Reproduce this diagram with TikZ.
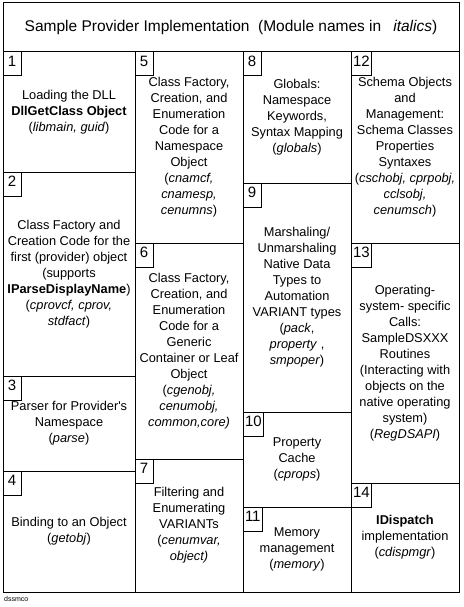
\documentclass[tikz,border=0pt]{standalone}
\usepackage{fontspec}
\setmainfont{Liberation Sans}[Ligatures=TeXOff]
\usetikzlibrary{positioning}

\begin{document}
\begin{tikzpicture}[x=1pt, y=-1pt, node distance=0pt,
  cell/.style={draw, line width=1pt, outer sep=0pt, inner sep=0pt, align=center, font=\fontsize{12.8}{16}\selectfont},
  numbox/.style={draw, line width=1pt, outer sep=0pt, anchor=north west, inner xsep=2pt, inner ysep=3.5pt, minimum width=18pt, text height=11pt, text depth=6pt, font=\fontsize{15}{16}\selectfont}]
  \useasboundingbox (0,0) rectangle (463,607);
  \node[cell, anchor=north west, minimum width=456pt, minimum height=49pt, font=\fontsize{15.5}{18}\selectfont] (title) at (3,3) {Sample Provider Implementation\ \ (Module names in\hspace{12pt}\textit{italics})};
  \node[cell, anchor=north west, minimum width=132pt, minimum height=120pt] (c1) at (title.south west) {Loading the DLL\\\textbf{DllGetClass Object}\\(\textit{libmain, guid})};
  \node[cell, below=of c1, minimum width=132pt, minimum height=204pt] (c2) {Class Factory and\\Creation Code for the\\first (provider) object\\(supports\\\textbf{IParseDisplayName})\\(\textit{cprovcf, cprov,}\\\textit{stdfact})};
  \node[cell, below=of c2, minimum width=132pt, minimum height=95pt] (c3) {Parser for Provider's\\Namespace\\(\textit{parse})};
  \node[cell, below=of c3, minimum width=132pt, minimum height=121pt] (c4) {Binding to an Object\\(\textit{getobj})};
  \node[cell, anchor=north west, minimum width=108pt, minimum height=191pt] (c5) at (c1.north east) {Class Factory,\\Creation, and\\Enumeration\\Code for a\\Namespace\\Object\\(\textit{cnamcf,}\\\textit{cnamesp,}\\\textit{cenumns})};
  \node[cell, below=of c5, minimum width=108pt, minimum height=216pt] (c6) {Class Factory,\\Creation, and\\Enumeration\\Code for a\\Generic\\Container or Leaf\\Object\\(\textit{cgenobj,}\\\textit{cenumobj,}\\\textit{common,core)}};
  \node[cell, below=of c6, minimum width=108pt, minimum height=133pt] (c7) {Filtering and\\Enumerating\\VARIANTs\\(\textit{cenumvar,}\\\textit{object)}};
  \node[cell, anchor=north west, minimum width=108pt, minimum height=131pt] (c8) at (c5.north east) {Globals:\\Namespace\\Keywords,\\Syntax Mapping\\(\textit{globals})};
  \node[cell, below=of c8, minimum width=108pt, minimum height=229pt] (c9) {Marshaling/\\Unmarshaling\\Native Data\\Types to\\Automation\\VARIANT types\\(\textit{pack},\\\textit{property} ,\\\textit{smpoper})};
  \node[cell, below=of c9, minimum width=108pt, minimum height=95pt] (c10) {Property\\Cache\\(\textit{cprops})};
  \node[cell, below=of c10, minimum width=108pt, minimum height=85pt] (c11) {Memory\\management\\(\textit{memory})};
  \node[cell, anchor=north west, minimum width=108pt, minimum height=191pt] (c12) at (c8.north east) {Schema Objects\\and\\Management:\\Schema Classes\\Properties\\Syntaxes\\(\textit{cschobj, cprpobj,}\\\textit{cclsobj,}\\\textit{cenumsch})};
  \node[cell, below=of c12, minimum width=108pt, minimum height=240pt] (c13) {Operating-\\system- specific\\Calls:\\SampleDSXXX\\Routines\\(Interacting with\\objects on the\\native operating\\system)\\(\textit{RegDSAPI})};
  \node[cell, below=of c13, minimum width=108pt, minimum height=109pt] (c14) {\textbf{IDispatch}\\implementation\\(\textit{cdispmgr})};
  \foreach \i in {1,...,14}
    \node[numbox] (n\i) at (c\i.north west) {\i};
  \node[anchor=west, inner sep=0pt, font=\fontsize{7}{8}\selectfont] (tag) at (4,599) {dssmco};
\end{tikzpicture}
\end{document}
